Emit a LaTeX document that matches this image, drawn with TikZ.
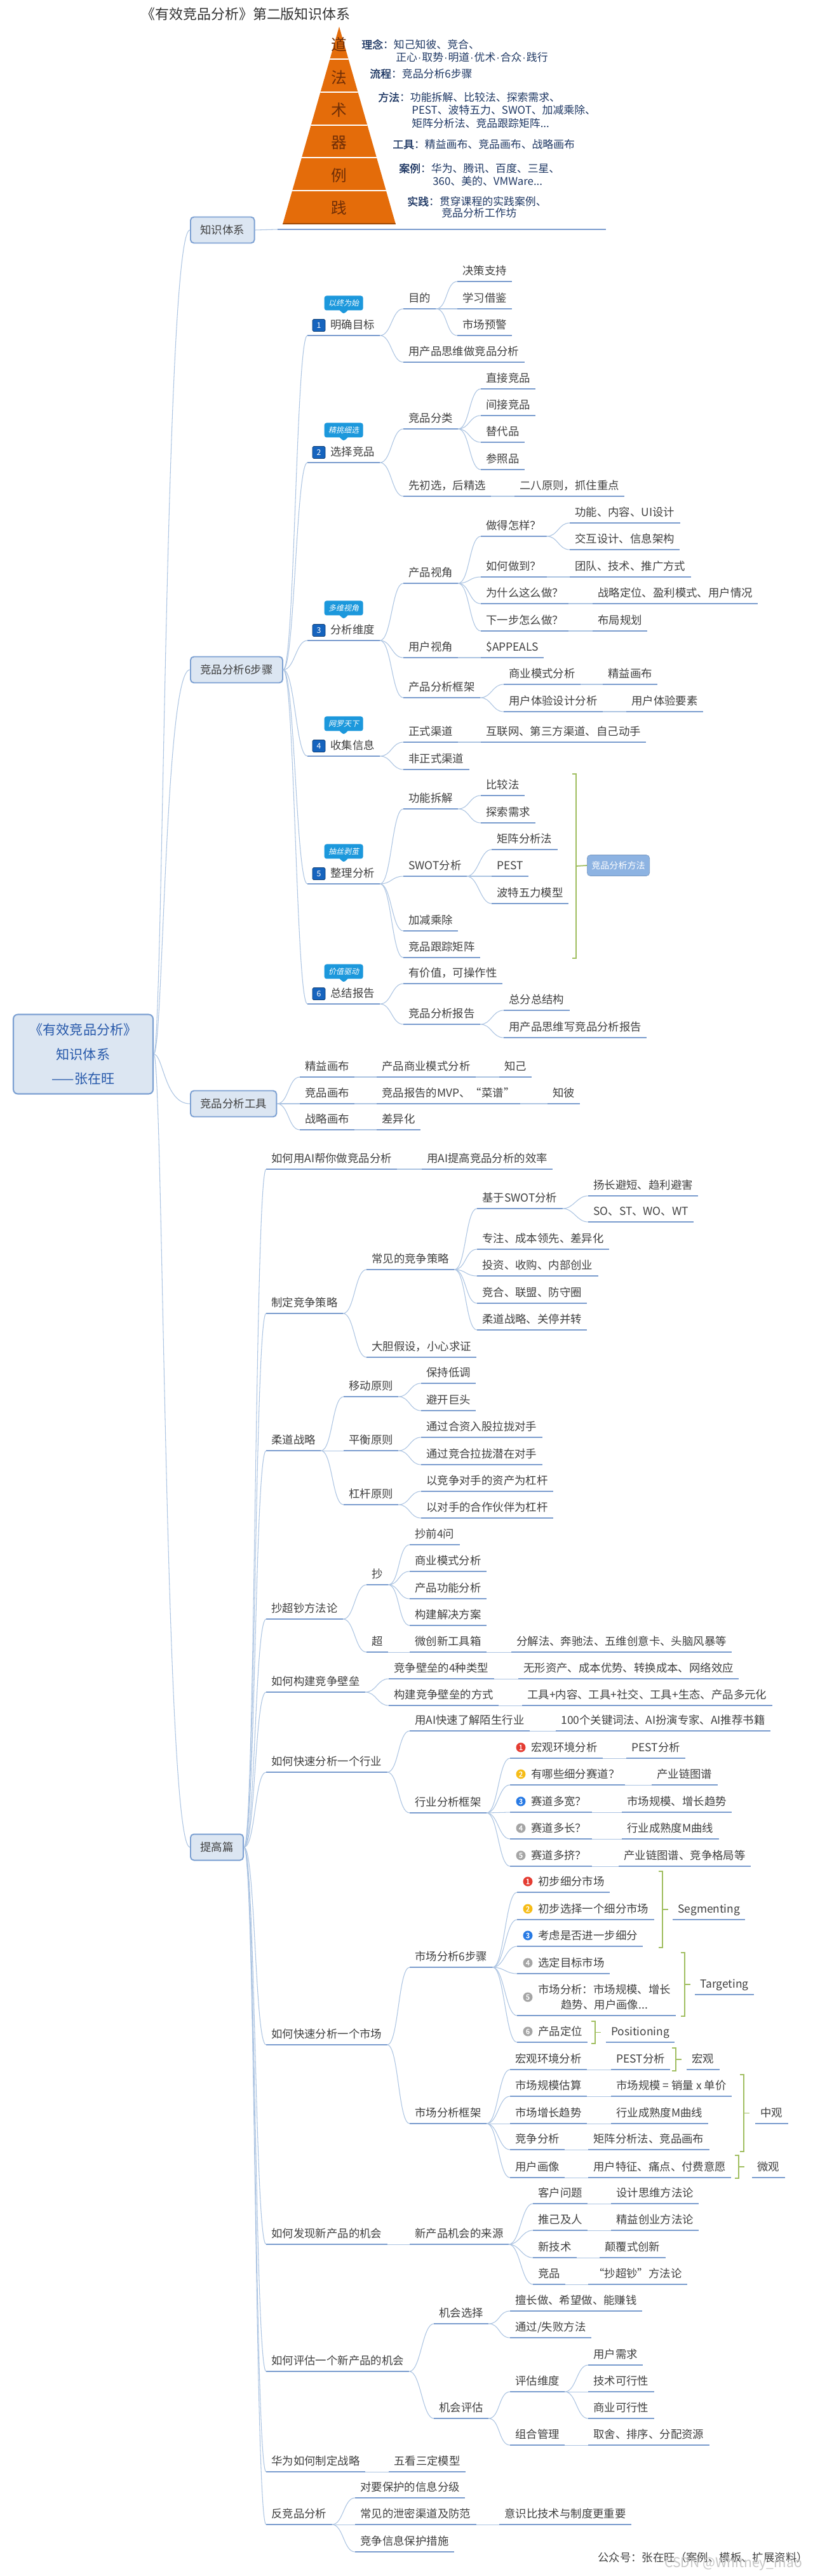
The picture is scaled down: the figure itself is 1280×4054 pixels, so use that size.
\documentclass[tikz,border=0pt]{standalone}
\usepackage{fontspec}
\setmainfont{Noto Sans CJK SC}
\newfontfamily\slcjk{Noto Sans CJK SC}[FakeSlant=0.22]
\newfontfamily\bfcjk{Noto Sans CJK SC}[FakeBold=1.6]
\newfontfamily\latn{Liberation Sans}
\newcommand\mdot{{\latn\kern0.5pt·\kern0.5pt}}
\usepackage{xcolor}
\usepackage{tikz}
\usetikzlibrary{positioning,calc,shapes.callouts}

\definecolor{txt}{RGB}{64,64,64}
\definecolor{navy}{RGB}{31,56,100}
\definecolor{ul}{RGB}{122,156,206}
\definecolor{cn}{RGB}{172,196,226}
\definecolor{boxfill}{RGB}{220,230,242}
\definecolor{boxline}{RGB}{124,160,210}
\definecolor{rootblue}{RGB}{38,88,170}
\definecolor{bub}{RGB}{28,152,220}
\definecolor{stepblue}{RGB}{22,100,190}
\definecolor{pyr}{RGB}{228,108,10}
\definecolor{pyrtxt}{RGB}{112,46,6}
\definecolor{brkc}{RGB}{160,190,96}
\definecolor{sumfill}{RGB}{141,179,226}
\definecolor{cred}{RGB}{228,60,50}
\definecolor{camber}{RGB}{246,188,22}
\definecolor{cblue}{RGB}{40,122,228}
\definecolor{cgray}{RGB}{165,165,165}

\begin{document}
\begin{tikzpicture}[
    x=0.02cm, y=-0.02cm,
    font=\fontsize{9.9pt}{12pt}\selectfont,
    tp/.style={anchor=south west, inner xsep=0.16cm, inner ysep=0pt,
               text height=0.36cm, text depth=0.21cm, text=txt,
               append after command={\pgfextra{\let\tpnode\tikzlastnode}
                 (\tpnode.south west) edge[uline] (\tpnode.south east)}},
    uline/.style={draw=ul, line width=1.3pt},
    conn/.style={draw=cn, line width=0.6pt},
    lvl/.style={draw=boxline, fill=boxfill, line width=1.1pt, rounded corners=3pt,
                anchor=west, minimum height=0.82cm, inner xsep=0.31cm, text=txt},
    rootbox/.style={draw=boxline, fill=boxfill, line width=1.2pt, rounded corners=4pt,
                    minimum width=4.4cm, minimum height=2.5cm, align=center, text=rootblue,
                    font=\fontsize{12pt}{22pt}\selectfont},
    bubble/.style={rectangle callout, callout relative pointer={(0cm,-0.12cm)},
                   fill=bub, rounded corners=2pt, text=white, inner xsep=0.12cm,
                   inner ysep=0pt, minimum width=1.22cm, minimum height=0.46cm,
                   font=\slcjk\fontsize{6.8pt}{7pt}\selectfont},
    stepno/.style={fill=stepblue, draw=stepblue!60!black, rounded corners=1pt,
                   minimum width=0.4cm, minimum height=0.38cm, inner sep=0pt,
                   text=white, font=\fontsize{7pt}{7pt}\selectfont},
    numc/.style={circle, fill=#1, minimum size=0.3cm, inner sep=0pt, text=white,
                 font=\bfcjk\fontsize{6.5pt}{7pt}\selectfont},
    brk/.style={draw=brkc, line width=1pt},
    pyrch/.style={text=pyrtxt, inner sep=0pt, font=\fontsize{14pt}{14pt}\selectfont},
    plab/.style={anchor=west, text=navy, inner sep=0pt, font=\fontsize{9.6pt}{11pt}\selectfont},
    sumbox/.style={anchor=west, fill=sumfill, draw=sumfill!85!black, rounded corners=3pt,
                   minimum height=0.66cm, inner xsep=0.14cm, text=white,
                   font=\fontsize{8pt}{9pt}\selectfont}
]
\useasboundingbox (0,0) rectangle (1280,4054);
\fill[white] (0,0) rectangle (1280,4054);

% title, pyramid
\node[anchor=west, inner sep=0pt, text=txt!80!black, font=\fontsize{12.5pt}{14pt}\selectfont]
  (title) at (222,22) {《有效竞品分析》第二版知识体系};

\fill[pyr] (534,42) -- (623,353) -- (445,353) -- cycle;
\begin{scope}
  \clip (534,42) -- (623,353) -- (445,353) -- cycle;
  \foreach \yy in {93,145,197,248,300}
    \draw[white, line width=1.2pt] (430,\yy) -- (640,\yy);
  \draw[pyr!70!black, line width=1.5pt] (430,352) -- (640,352);
\end{scope}
\foreach \ch/\yy in {道/70,法/122,术/173,器/225,例/276,践/327}
  \node[pyrch] (py\yy) at (534,\yy) {\ch};

\node[plab] (pl1)  at (569,70)  {{\bfcjk 理念}：知己知彼、竞合、};
\node[plab] (pl1b) at (623,90)  {正心\mdot 取势\mdot 明道\mdot 优术\mdot 合众\mdot 践行};
\node[plab] (pl2)  at (582,116) {{\bfcjk 流程}：竞品分析6步骤};
\node[plab] (pl3)  at (595,153) {{\bfcjk 方法}：功能拆解、比较法、探索需求、};
\node[plab] (pl3b) at (648,173) {PEST、波特五力、SWOT、加减乘除、};
\node[plab] (pl3c) at (648,194) {矩阵分析法、竞品跟踪矩阵...};
\node[plab] (pl4)  at (618,227) {{\bfcjk 工具}：精益画布、竞品画布、战略画布};
\node[plab] (pl5)  at (628,265) {{\bfcjk 案例}：华为、腾讯、百度、三星、};
\node[plab] (pl5b) at (681,285) {360、美的、VMWare...};
\node[plab] (pl6)  at (641,317) {{\bfcjk 实践}：贯穿课程的实践案例、};
\node[plab] (pl6b) at (695,335) {竞品分析工作坊};

% root and first level
\node[rootbox] (root) at (131,1659) {《有效竞品分析》\\知识体系\\——张在旺};
\node[lvl] (zs) at (299,362)  {知识体系};
\node[lvl] (bz) at (299,1054) {竞品分析6步骤};
\node[lvl] (gj) at (299,1737) {竞品分析工具};
\node[lvl] (tg) at (299,2907) {提高篇};

\coordinate (pyla) at (437,361);
\coordinate (pylb) at (954,361);
\draw[uline] (pyla) -- (pylb);
\draw[conn] (zs.east) -- (pyla);

% six steps
\node[tp] (s1)   at (484,528) {\hspace{0.56cm}明确目标};
\node[tp] (s1a)  at (635,486) {目的};
\node[tp] (s1a1) at (720,443) {决策支持};
\node[tp] (s1a2) at (720,486) {学习借鉴};
\node[tp] (s1a3) at (720,528) {市场预警};
\node[tp] (s1b)  at (635,570) {用产品思维做竞品分析};

\node[tp] (s2)   at (484,728) {\hspace{0.56cm}选择竞品};
\node[tp] (s2a)  at (635,675) {竞品分类};
\node[tp] (s2a1) at (757,612) {直接竞品};
\node[tp] (s2a2) at (757,654) {间接竞品};
\node[tp] (s2a3) at (757,696) {替代品};
\node[tp] (s2a4) at (757,739) {参照品};
\node[tp] (s2b)  at (635,781) {先初选，后精选};
\node[tp] (s2b1) at (810,781) {二八原则，抓住重点};

\node[tp] (s3)    at (484,1008) {\hspace{0.56cm}分析维度};
\node[tp] (s3a)   at (635,918)  {产品视角};
\node[tp] (s3a1)  at (757,844)  {做得怎样？};
\node[tp] (s3a1a) at (897,823)  {功能、内容、UI设计};
\node[tp] (s3a1b) at (897,865)  {交互设计、信息架构};
\node[tp] (s3a2)  at (757,908)  {如何做到？};
\node[tp] (s3a2a) at (897,908)  {团队、技术、推广方式};
\node[tp] (s3a3)  at (757,950)  {为什么这么做？};
\node[tp] (s3a3a) at (933,950)  {战略定位、盈利模式、用户情况};
\node[tp] (s3a4)  at (757,993)  {下一步怎么做？};
\node[tp] (s3a4a) at (933,993)  {布局规划};
\node[tp] (s3b)   at (635,1035) {用户视角};
\node[tp] (s3b1)  at (757,1035) {\$APPEALS};
\node[tp] (s3c)   at (635,1098) {产品分析框架};
\node[tp] (s3c1)  at (793,1077) {商业模式分析};
\node[tp] (s3c1a) at (949,1077) {精益画布};
\node[tp] (s3c2)  at (793,1120) {用户体验设计分析};
\node[tp] (s3c2a) at (986,1120) {用户体验要素};

\node[tp] (s4)   at (484,1190) {\hspace{0.56cm}收集信息};
\node[tp] (s4a)  at (635,1168) {正式渠道};
\node[tp] (s4a1) at (757,1168) {互联网、第三方渠道、自己动手};
\node[tp] (s4b)  at (635,1211) {非正式渠道};

\node[tp] (s5)   at (484,1391) {\hspace{0.56cm}整理分析};
\node[tp] (s5a)  at (635,1273) {功能拆解};
\node[tp] (s5a1) at (757,1252) {比较法};
\node[tp] (s5a2) at (757,1295) {探索需求};
\node[tp] (s5b)  at (635,1379) {SWOT分析};
\node[tp] (s5b1) at (774,1337) {矩阵分析法};
\node[tp] (s5b2) at (774,1379) {PEST};
\node[tp] (s5b3) at (774,1422) {波特五力模型};
\node[tp] (s5c)  at (635,1465) {加减乘除};
\node[tp] (s5d)  at (635,1507) {竞品跟踪矩阵};

\node[tp] (s6)   at (484,1580) {\hspace{0.56cm}总结报告};
\node[tp] (s6a)  at (635,1548) {有价值，可操作性};
\node[tp] (s6b)  at (635,1612) {竞品分析报告};
\node[tp] (s6b1) at (793,1590) {总分总结构};
\node[tp] (s6b2) at (793,1633) {用产品思维写竞品分析报告};

\foreach \n/\tx in {1/以终为始,2/精挑细选,3/多维视角,4/网罗天下,5/抽丝剥茧,6/价值驱动} {
  \node[stepno] (no\n) at ($(s\n.south west)+(18,-16)$) {\n};
  \node[bubble, above=0.2cm of s\n] (bub\n) {\tx};
}

% summary bracket of step 5
\node[sumbox] (cf) at (924,1362) {竞品分析方法};
\draw[brk] (901,1218) -- (907,1218) -- (907,1508) -- (901,1508);
\draw[brk] (907,1363) -- (cf.west);

% tools
\node[tp] (t1)  at (472,1695) {精益画布};
\node[tp] (t1a) at (593,1695) {产品商业模式分析};
\node[tp] (t1b) at (786,1695) {知己};
\node[tp] (t2)  at (472,1737) {竞品画布};
\node[tp] (t2a) at (593,1737) {竞品报告的MVP、“菜谱”};
\node[tp] (t2b) at (862,1737) {知彼};
\node[tp] (t3)  at (472,1778) {战略画布};
\node[tp] (t3a) at (593,1778) {差异化};

% advanced part
\node[tp] (pa)  at (419,1840) {如何用AI帮你做竞品分析};
\node[tp] (pa1) at (664,1840) {用AI提高竞品分析的效率};

\node[tp] (pb)    at (419,2067) {制定竞争策略};
\node[tp] (pb1)   at (577,1998) {常见的竞争策略};
\node[tp] (pb1a)  at (751,1902) {基于SWOT分析};
\node[tp] (pb1a1) at (926,1882) {扬长避短、趋利避害};
\node[tp] (pb1a2) at (926,1923) {SO、ST、WO、WT};
\node[tp] (pb1b)  at (751,1966) {专注、成本领先、差异化};
\node[tp] (pb1c)  at (751,2008) {投资、收购、内部创业};
\node[tp] (pb1d)  at (751,2051) {竞合、联盟、防守圈};
\node[tp] (pb1e)  at (751,2093) {柔道战略、关停并转};
\node[tp] (pb2)   at (577,2136) {大胆假设，小心求证};

\node[tp] (pc)   at (419,2283) {柔道战略};
\node[tp] (pc1)  at (541,2198) {移动原则};
\node[tp] (pc1a) at (663,2177) {保持低调};
\node[tp] (pc1b) at (663,2220) {避开巨头};
\node[tp] (pc2)  at (541,2283) {平衡原则};
\node[tp] (pc2a) at (663,2262) {通过合资入股拉拢对手};
\node[tp] (pc2b) at (663,2305) {通过竞合拉拢潜在对手};
\node[tp] (pc3)  at (541,2368) {杠杆原则};
\node[tp] (pc3a) at (663,2347) {以竞争对手的资产为杠杆};
\node[tp] (pc3b) at (663,2389) {以对手的合作伙伴为杠杆};

\node[tp] (pd)   at (419,2548) {抄超钞方法论};
\node[tp] (pd1)  at (577,2494) {抄};
\node[tp] (pd1a) at (645,2431) {抄前4问};
\node[tp] (pd1b) at (645,2473) {商业模式分析};
\node[tp] (pd1c) at (645,2516) {产品功能分析};
\node[tp] (pd1d) at (645,2558) {构建解决方案};
\node[tp] (pd2)  at (577,2600) {超};
\node[tp] (pd2a) at (645,2600) {微创新工具箱};
\node[tp] (pd2b) at (805,2600) {分解法、奔驰法、五维创意卡、头脑风暴等};

\node[tp] (pe)   at (419,2663) {如何构建竞争壁垒};
\node[tp] (pe1)  at (612,2642) {竞争壁垒的4种类型};
\node[tp] (pe1a) at (816,2642) {无形资产、成本优势、转换成本、网络效应};
\node[tp] (pe2)  at (612,2684) {构建竞争壁垒的方式};
\node[tp] (pe2a) at (822,2684) {工具+内容、工具+社交、工具+生态、产品多元化};

\node[tp] (pf)    at (419,2789) {如何快速分析一个行业};
\node[tp] (pf1)   at (645,2724) {用AI快速了解陌生行业};
\node[tp] (pf1a)  at (875,2724) {100个关键词法、AI扮演专家、AI推荐书籍};
\node[tp] (pf2)   at (645,2853) {行业分析框架};
\node[tp] (pf2a)  at (803,2767) {\hspace{0.5cm}宏观环境分析};
\node[tp] (pf2a1) at (986,2767) {PEST分析};
\node[tp] (pf2b)  at (803,2809) {\hspace{0.5cm}有哪些细分赛道？};
\node[tp] (pf2b1) at (1026,2809) {产业链图谱};
\node[tp] (pf2c)  at (803,2852) {\hspace{0.5cm}赛道多宽？};
\node[tp] (pf2c1) at (979,2852) {市场规模、增长趋势};
\node[tp] (pf2d)  at (803,2894) {\hspace{0.5cm}赛道多长？};
\node[tp] (pf2d1) at (979,2894) {行业成熟度M曲线};
\node[tp] (pf2e)  at (803,2937) {\hspace{0.5cm}赛道多挤？};
\node[tp] (pf2e1) at (974,2937) {产业链图谱、竞争格局等};

\node[tp] (pg)   at (419,3218) {如何快速分析一个市场};
\node[tp] (pg1)  at (645,3096) {市场分析6步骤};
\node[tp] (pg1a) at (814,2978) {\hspace{0.5cm}初步细分市场};
\node[tp] (pg1b) at (814,3021) {\hspace{0.5cm}初步选择一个细分市场};
\node[tp] (pg1c) at (814,3063) {\hspace{0.5cm}考虑是否进一步细分};
\node[tp] (pg1d) at (814,3106) {\hspace{0.5cm}选定目标市场};
\node[tp] (pg1e) at (814,3172) {\hspace{0.5cm}\begin{tabular}[b]{@{}c@{}}市场分析：市场规模、增长\\[0.06cm]趋势、用户画像...\end{tabular}};
\node[tp] (pg1f) at (814,3214) {\hspace{0.5cm}产品定位};
\node[tp] (seg)  at (1059,3021) {Segmenting};
\node[tp] (tgt)  at (1094,3139) {Targeting};
\node[tp] (posi) at (954,3214)  {Positioning};

\node[tp] (pg2)   at (645,3342) {市场分析框架};
\node[tp] (pg2a)  at (803,3257) {宏观环境分析};
\node[tp] (pg2a1) at (962,3257) {PEST分析};
\node[tp] (pg2b)  at (803,3299) {市场规模估算};
\node[tp] (pg2b1) at (962,3299) {市场规模 = 销量 x 单价};
\node[tp] (pg2c)  at (803,3342) {市场增长趋势};
\node[tp] (pg2c1) at (962,3342) {行业成熟度M曲线};
\node[tp] (pg2d)  at (803,3383) {竞争分析};
\node[tp] (pg2d1) at (926,3383) {矩阵分析法、竞品画布};
\node[tp] (pg2e)  at (803,3427) {用户画像};
\node[tp] (pg2e1) at (926,3427) {用户特征、痛点、付费意愿};
\node[tp] (hg) at (1081,3257) {宏观};
\node[tp] (zg) at (1189,3342) {中观};
\node[tp] (wg) at (1184,3427) {微观};

\node[tp] (ph)    at (419,3532) {如何发现新产品的机会};
\node[tp] (ph1)   at (645,3532) {新产品机会的来源};
\node[tp] (ph1a)  at (839,3468) {客户问题};
\node[tp] (ph1a1) at (962,3468) {设计思维方法论};
\node[tp] (ph1b)  at (839,3510) {推己及人};
\node[tp] (ph1b1) at (962,3510) {精益创业方法论};
\node[tp] (ph1c)  at (839,3553) {新技术};
\node[tp] (ph1c1) at (944,3553) {颠覆式创新};
\node[tp] (ph1d)  at (839,3595) {竞品};
\node[tp] (ph1d1) at (926,3595) {“抄超钞”方法论};

\node[tp] (pi)    at (419,3732) {如何评估一个新产品的机会};
\node[tp] (pi1)   at (683,3657) {机会选择};
\node[tp] (pi1a)  at (803,3637) {擅长做、希望做、能赚钱};
\node[tp] (pi1b)  at (803,3679) {通过/失败方法};
\node[tp] (pi2)   at (683,3806) {机会评估};
\node[tp] (pi2a)  at (803,3764) {评估维度};
\node[tp] (pi2a1) at (926,3722) {用户需求};
\node[tp] (pi2a2) at (926,3764) {技术可行性};
\node[tp] (pi2a3) at (926,3806) {商业可行性};
\node[tp] (pi2b)  at (803,3848) {组合管理};
\node[tp] (pi2b1) at (926,3848) {取舍、排序、分配资源};

\node[tp] (pj)  at (419,3890) {华为如何制定战略};
\node[tp] (pj1) at (612,3890) {五看三定模型};

\node[tp] (pk)  at (419,3973) {反竞品分析};
\node[tp] (pk1) at (559,3931) {对要保护的信息分级};
\node[tp] (pk2) at (559,3973) {常见的泄密渠道及防范};
\node[tp] (pk2a) at (786,3973) {意识比技术与制度更重要};
\node[tp] (pk3) at (559,4016) {竞争信息保护措施};

% numbered circles
\foreach \n/\cl/\d in {pf2a/cred/1, pf2b/camber/2, pf2c/cblue/3, pf2d/cgray/4, pf2e/cgray/5,
                       pg1a/cred/1, pg1b/camber/2, pg1c/cblue/3, pg1d/cgray/4, pg1f/cgray/6}
  \node[numc=\cl] (ic\n) at ($(\n.south west)+(17,-17)$) {\d};
\node[numc=cgray] (icpg1e) at ($(pg1e.south west)+(17,-29)$) {5};

% brackets
\foreach \bx/\bt/\bb in {1043/2945/3065, 1078/3073/3173, 937/3181/3216,
                         1064/3223/3259, 1171/3265/3386, 1163/3392/3428} {
  \draw[brk] ({\bx-6},\bt) -- (\bx,\bt) -- (\bx,\bb) -- ({\bx-6},\bb);
  \draw[brk] (\bx,{(\bt+\bb)/2}) -- +(9,0);
}

% connectors
\foreach \c in {zs,bz,gj,tg}
  \draw[conn] (root.east) .. controls +(15,0) and +(-40,0) .. (\c.west);
\foreach \c in {s1,s2,s3,s4,s5,s6}
  \draw[conn] (bz.east) .. controls +(18,0) and +(-18,0) .. (\c.south west);
\foreach \c in {t1,t2,t3}
  \draw[conn] (gj.east) .. controls +(18,0) and +(-18,0) .. (\c.south west);
\foreach \c in {pa,pb,pc,pd,pe,pf,pg,ph,pi,pj,pk}
  \draw[conn] (tg.east) .. controls +(18,0) and +(-18,0) .. (\c.south west);

\foreach \p/\c in {s1/s1a, s1/s1b, s1a/s1a1, s1a/s1a2, s1a/s1a3,
                   s2/s2a, s2/s2b, s2a/s2a1, s2a/s2a2, s2a/s2a3, s2a/s2a4, s2b/s2b1,
                   s3/s3a, s3/s3b, s3/s3c, s3a/s3a1, s3a/s3a2, s3a/s3a3, s3a/s3a4,
                   s3a1/s3a1a, s3a1/s3a1b, s3a2/s3a2a, s3a3/s3a3a, s3a4/s3a4a,
                   s3b/s3b1, s3c/s3c1, s3c/s3c2, s3c1/s3c1a, s3c2/s3c2a,
                   s4/s4a, s4/s4b, s4a/s4a1,
                   s5/s5a, s5/s5b, s5/s5c, s5/s5d, s5a/s5a1, s5a/s5a2,
                   s5b/s5b1, s5b/s5b2, s5b/s5b3,
                   s6/s6a, s6/s6b, s6b/s6b1, s6b/s6b2,
                   t1/t1a, t1a/t1b, t2/t2a, t2a/t2b, t3/t3a}
  \draw[conn] (\p.south east) .. controls +(18,0) and +(-18,0) .. (\c.south west);

\foreach \p/\c in {pa/pa1, pb/pb1, pb/pb2, pb1/pb1a, pb1/pb1b, pb1/pb1c, pb1/pb1d, pb1/pb1e,
                   pb1a/pb1a1, pb1a/pb1a2,
                   pc/pc1, pc/pc2, pc/pc3, pc1/pc1a, pc1/pc1b, pc2/pc2a, pc2/pc2b,
                   pc3/pc3a, pc3/pc3b,
                   pd/pd1, pd/pd2, pd1/pd1a, pd1/pd1b, pd1/pd1c, pd1/pd1d, pd2/pd2a, pd2a/pd2b,
                   pe/pe1, pe/pe2, pe1/pe1a, pe2/pe2a,
                   pf/pf1, pf/pf2, pf1/pf1a, pf2/pf2a, pf2/pf2b, pf2/pf2c, pf2/pf2d, pf2/pf2e,
                   pf2a/pf2a1, pf2b/pf2b1, pf2c/pf2c1, pf2d/pf2d1, pf2e/pf2e1,
                   pg/pg1, pg/pg2, pg1/pg1a, pg1/pg1b, pg1/pg1c, pg1/pg1d, pg1/pg1e, pg1/pg1f,
                   pg2/pg2a, pg2/pg2b, pg2/pg2c, pg2/pg2d, pg2/pg2e,
                   pg2a/pg2a1, pg2b/pg2b1, pg2c/pg2c1, pg2d/pg2d1, pg2e/pg2e1,
                   ph/ph1, ph1/ph1a, ph1/ph1b, ph1/ph1c, ph1/ph1d,
                   ph1a/ph1a1, ph1b/ph1b1, ph1c/ph1c1, ph1d/ph1d1,
                   pi/pi1, pi/pi2, pi1/pi1a, pi1/pi1b, pi2/pi2a, pi2/pi2b,
                   pi2a/pi2a1, pi2a/pi2a2, pi2a/pi2a3, pi2b/pi2b1,
                   pj/pj1, pk/pk1, pk/pk2, pk/pk3, pk2/pk2a}
  \draw[conn] (\p.south east) .. controls +(18,0) and +(-18,0) .. (\c.south west);

% footer
\node[anchor=west, inner sep=0pt, text=txt] (foot) at (941,4025) {公众号：张在旺（案例、模板、扩展资料）};
\node[anchor=west, inner sep=0pt, text=black!22, font=\fontsize{12pt}{13pt}\selectfont]
  (wm) at (1046,4035) {CSDN @Whitney\_mao};
\end{tikzpicture}
\end{document}
